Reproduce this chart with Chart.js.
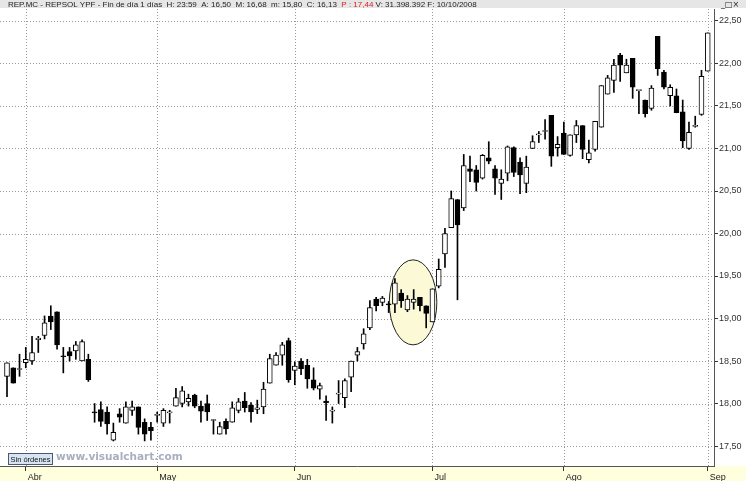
<!DOCTYPE html>
<html>
<head>
<meta charset="utf-8">
<script src="https://cdn.jsdelivr.net/npm/chart.js@4/dist/chart.umd.min.js"></script>
<style>
html, body { margin: 0; padding: 0; background: #fff; }
#wrap { width: 746px; height: 481px; }
</style>
</head>
<body>
<div id="wrap"><canvas id="chart" width="746" height="481"></canvas></div>
<script>
// REP.MC diario, finales de marzo a 1 de septiembre 2008
const openPrices = [
  18.32,18.42,18.40,18.48,18.50,18.75,18.80,19.03,19.08,18.56,
  18.61,18.62,18.50,18.52,17.90,17.93,17.90,17.57,17.88,17.77,
  17.92,17.96,17.78,17.72,17.86,17.77,17.89,17.97,18.00,18.02,
  18.10,17.97,18.00,17.80,17.64,17.79,17.78,17.92,18.03,17.98,
  17.93,17.96,18.24,18.45,18.57,18.74,18.39,18.50,18.45,18.28,
  18.17,18.03,17.91,18.11,18.07,18.31,18.57,18.70,18.89,19.23,
  19.19,19.17,19.17,19.30,19.10,19.19,19.25,19.15,18.96,19.38,
  19.76,20.07,20.40,20.30,20.76,20.75,20.65,20.89,20.76,20.59,
  20.71,21.01,20.84,20.59,21.00,21.16,21.20,21.39,21.01,21.18,
  20.92,21.16,21.27,20.87,20.99,21.25,21.64,21.80,22.10,21.89,
  22.06,21.68,21.57,21.47,22.32,21.90,21.62,21.62,21.43,21.00,
  21.26,21.40,21.91
];
const highPrices = [
  18.48,18.42,18.58,18.66,18.79,18.79,19.03,19.15,19.08,18.66,
  18.66,18.73,18.75,18.58,18.00,18.02,17.96,17.77,17.94,18.02,
  18.03,17.96,17.82,17.78,17.90,17.94,17.92,18.18,18.20,18.11,
  18.11,18.03,18.10,17.81,17.78,17.82,18.02,18.06,18.13,18.01,
  18.04,18.25,18.58,18.60,18.72,18.77,18.49,18.53,18.52,18.42,
  18.24,18.09,17.96,18.27,18.29,18.50,18.66,18.88,19.21,19.25,
  19.26,19.20,19.47,19.34,19.27,19.34,19.25,19.15,19.35,19.70,
  20.06,20.50,20.40,20.93,20.91,20.80,20.93,21.08,20.80,20.75,
  21.03,21.02,20.89,20.91,21.15,21.20,21.34,21.39,21.14,21.31,
  21.16,21.33,21.27,21.10,21.32,21.74,21.86,22.05,22.12,22.05,
  22.06,21.68,21.57,21.74,22.32,21.92,21.75,21.70,21.57,21.31,
  21.38,21.92,22.36
];
const lowPrices = [
  18.08,18.24,18.32,18.42,18.46,18.60,18.76,18.87,18.64,18.36,
  18.50,18.52,18.50,18.26,17.78,17.73,17.64,17.56,17.78,17.77,
  17.86,17.64,17.56,17.57,17.78,17.73,17.77,17.97,17.96,17.97,
  17.95,17.78,17.80,17.64,17.64,17.64,17.78,17.89,17.90,17.78,
  17.88,17.88,18.24,18.45,18.45,18.25,18.22,18.34,18.18,18.16,
  18.05,17.80,17.77,18.00,17.95,18.14,18.50,18.64,18.87,19.09,
  19.15,19.07,19.07,19.13,19.08,19.11,19.09,18.89,18.96,19.36,
  19.60,20.07,19.22,20.27,20.61,20.50,20.64,20.82,20.46,20.40,
  20.62,20.67,20.47,20.48,21.00,21.07,21.11,20.79,20.91,20.93,
  20.91,21.07,20.88,20.83,20.97,21.25,21.64,21.66,21.79,21.89,
  21.59,21.41,21.37,21.45,21.86,21.70,21.50,21.42,21.01,20.99,
  21.25,21.39,21.91
];
const closePrices = [
  18.48,18.24,18.40,18.52,18.60,18.77,18.95,18.96,18.69,18.55,
  18.56,18.69,18.73,18.28,17.89,17.79,17.76,17.66,17.84,17.96,
  17.96,17.72,17.64,17.68,17.86,17.92,17.89,18.07,18.15,18.06,
  17.97,17.91,17.90,17.80,17.73,17.70,17.95,18.02,17.95,17.90,
  17.95,18.17,18.53,18.57,18.69,18.28,18.44,18.41,18.29,18.18,
  18.21,18.01,17.91,18.11,18.27,18.50,18.61,18.82,19.13,19.15,
  19.24,19.16,19.42,19.21,19.23,19.23,19.15,19.06,19.35,19.58,
  20.00,20.41,20.10,20.80,20.73,20.60,20.92,20.85,20.65,20.64,
  21.02,20.72,20.69,20.78,21.08,21.16,21.20,20.91,21.05,20.93,
  21.16,21.27,20.99,20.95,21.32,21.74,21.83,21.98,21.98,21.98,
  21.72,21.68,21.41,21.71,21.94,21.72,21.72,21.42,21.09,21.19,
  21.26,21.85,22.36
];
const monthLabels = ['Abr', 'May', 'Jun', 'Jul', 'Ago', 'Sep'];
const monthStarts = [3, 24, 46, 68, 89, 112];
const yTickValues = [17.5, 18, 18.5, 19, 19.5, 20, 20.5, 21, 21.5, 22, 22.5];

// zona marcada con la elipse (en unidades de los ejes)
const highlight = { x: 64.9, y: 19.19, rx: 3.8, ry: 0.5 };

const titleMain = 'REP.MC - REPSOL YPF - Fin de día 1 días  H: 23:59  A: 16,50  M: 16,68  m: 15,80  C: 16,13  ';
const titleRed = 'P : 17,44';
const titleEnd = ' V: 31.398.392 F: 10/10/2008';

const wicks = lowPrices.map((l, i) => ({ x: i, y: [l, highPrices[i]] }));
const bodies = openPrices.map((o, i) => ({ x: i, y: [Math.min(o, closePrices[i]), Math.max(o, closePrices[i])] }));
const bodyColors = openPrices.map((o, i) => closePrices[i] >= o ? '#ffffff' : '#000000');

const decor = {
  id: 'decor',
  beforeDraw(chart) {
    const ctx = chart.ctx;
    const area = chart.chartArea;
    ctx.save();
    ctx.fillStyle = '#ffffff';
    ctx.fillRect(0, 0, chart.width, chart.height);
    ctx.fillStyle = '#fffedd';
    ctx.fillRect(0, area.bottom, chart.width, chart.height - area.bottom);
    ctx.fillStyle = '#e6e6e6';
    ctx.fillRect(0, 0, chart.width, 8);
    ctx.restore();
  },
  beforeDatasetsDraw(chart) {
    const ctx = chart.ctx;
    const area = chart.chartArea;
    const xs = chart.scales.x;
    const ys = chart.scales.y;
    ctx.save();
    ctx.strokeStyle = '#9a9a9a';
    ctx.lineWidth = 1;
    ctx.setLineDash([1, 2]);
    for (const v of yTickValues) {
      const y = Math.round(ys.getPixelForValue(v)) + 0.5;
      ctx.beginPath();
      ctx.moveTo(area.left, y);
      ctx.lineTo(area.right, y);
      ctx.stroke();
    }
    for (const v of monthStarts) {
      const x = Math.round(xs.getPixelForValue(v)) + 0.5;
      ctx.beginPath();
      ctx.moveTo(x, area.top);
      ctx.lineTo(x, area.bottom);
      ctx.stroke();
    }
    ctx.setLineDash([]);
    const cx = xs.getPixelForValue(highlight.x);
    const cy = ys.getPixelForValue(highlight.y);
    const rx = xs.getPixelForValue(highlight.x + highlight.rx) - cx;
    const ry = cy - ys.getPixelForValue(highlight.y + highlight.ry);
    ctx.beginPath();
    ctx.ellipse(cx, cy, rx, ry, 0, 0, Math.PI * 2);
    ctx.fillStyle = '#fbf9d6';
    ctx.fill();
    ctx.strokeStyle = '#222222';
    ctx.stroke();
    ctx.restore();
  },
  afterDraw(chart) {
    const ctx = chart.ctx;
    ctx.save();
    ctx.textBaseline = 'middle';
    ctx.font = '8px "Liberation Sans", Arial, sans-serif';
    let x = 8;
    ctx.fillStyle = '#222222';
    ctx.fillText(titleMain, x, 4.5);
    x += ctx.measureText(titleMain).width;
    ctx.fillStyle = '#e02020';
    ctx.fillText(titleRed, x, 4.5);
    x += ctx.measureText(titleRed).width;
    ctx.fillStyle = '#222222';
    ctx.fillText(titleEnd, x, 4.5);
    ctx.font = '8px "DejaVu Sans", sans-serif';
    ctx.fillText('_□×', 721, 4.5);

    // caja "Sin órdenes"
    ctx.fillStyle = '#d7e4f2';
    ctx.fillRect(8, 453, 44, 11);
    ctx.strokeStyle = '#4a5870';
    ctx.lineWidth = 1;
    ctx.strokeRect(8.5, 453.5, 44, 11);
    ctx.fillStyle = '#111111';
    ctx.font = '7.5px "Liberation Sans", Arial, sans-serif';
    ctx.textAlign = 'center';
    ctx.fillText('Sin órdenes', 30.5, 459.5);

    ctx.textAlign = 'left';
    ctx.fillStyle = '#a9aec0';
    ctx.font = 'bold 10.5px "DejaVu Sans", sans-serif';
    ctx.fillText('www.visualchart.com', 56, 457);
    ctx.restore();
  }
};

new Chart(document.getElementById('chart'), {
  type: 'bar',
  data: {
    datasets: [
      {
        data: bodies,
        backgroundColor: bodyColors,
        borderColor: '#000000',
        borderWidth: 1,
        borderSkipped: false,
        barThickness: 5,
        minBarLength: 1,
        grouped: false,
        order: 0
      },
      {
        data: wicks,
        backgroundColor: '#000000',
        borderWidth: 0,
        barThickness: 1,
        grouped: false,
        order: 1
      }
    ]
  },
  options: {
    responsive: false,
    animation: false,
    devicePixelRatio: 1,
    layout: { padding: { top: 9, left: 0, right: 0, bottom: 0 } },
    plugins: {
      legend: { display: false },
      tooltip: { enabled: false },
      title: { display: false }
    },
    scales: {
      x: {
        type: 'linear',
        position: 'bottom',
        offset: false,
        min: -1.12,
        max: 113.0,
        afterBuildTicks: s => { s.ticks = monthStarts.map(v => ({ value: v })); },
        afterFit: s => { s.height = 15; },
        grid: { offset: false, drawOnChartArea: false, drawTicks: true, tickLength: 5, tickColor: '#333333' },
        border: { display: true, color: '#555555', width: 1 },
        ticks: {
          align: 'start',
          padding: 1,
          labelOffset: 2,
          autoSkip: false,
          maxRotation: 0,
          color: '#222222',
          font: { family: '"Liberation Sans", Arial, sans-serif', size: 9 },
          callback: (v, i) => monthLabels[i]
        }
      },
      y: {
        type: 'linear',
        position: 'right',
        min: 17.265,
        max: 22.641,
        afterBuildTicks: s => { s.ticks = yTickValues.map(v => ({ value: v })); },
        afterFit: s => { s.width = 32; },
        grid: { drawOnChartArea: false, drawTicks: true, tickLength: 4, tickColor: '#333333' },
        border: { display: true, color: '#555555', width: 1 },
        ticks: {
          padding: 1,
          color: '#333333',
          font: { family: '"Liberation Sans", Arial, sans-serif', size: 9 },
          callback: v => v.toFixed(2).replace('.', ',')
        }
      }
    }
  },
  plugins: [decor]
});
</script>
</body>
</html>
